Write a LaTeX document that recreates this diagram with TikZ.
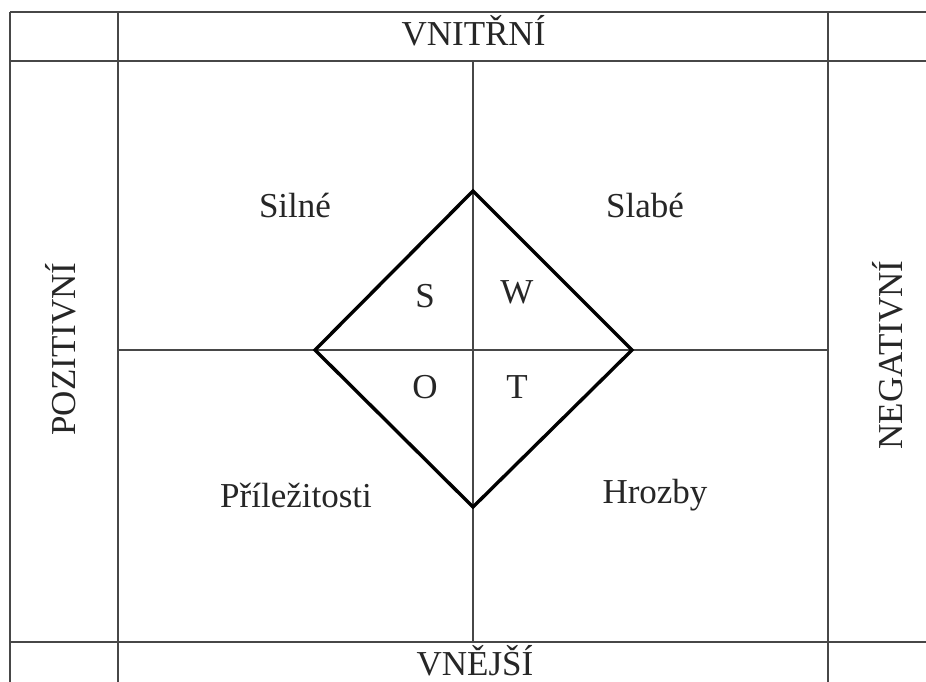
\documentclass[tikz,border=0pt]{standalone}
\usepackage{fontspec}
\setmainfont{Liberation Serif}
\begin{document}
\begin{tikzpicture}[x=1pt,y=-1pt,
  grid/.style={line width=1.8pt,draw=black!72},
  diamondline/.style={line width=3.4pt,draw=black,line join=miter},
  lbl/.style={font=\fontsize{35}{40}\selectfont,inner sep=0pt,anchor=base,text=black!85}]
\useasboundingbox (0,0) rectangle (926,682);
\clip (0,0) rectangle (926,682);
\fill[white] (0,0) rectangle (926,682);

% table grid
\coordinate (tl) at (10,12);
\draw[grid] (10,12) -- (940,12);
\draw[grid] (10,12) -- (10,700);
\draw[grid] (118,12) -- (118,700);
\draw[grid] (828,12) -- (828,700);
\draw[grid] (10,61) -- (940,61);
\draw[grid] (10,642) -- (940,642);
\draw[grid] (118,350) -- (828,350);
\draw[grid] (473,61) -- (473,642);

% SWOT diamond
\coordinate (dtop) at (473,191);
\coordinate (dright) at (632,350);
\coordinate (dbottom) at (473,507);
\coordinate (dleft) at (315,350);
\draw[diamondline] (dtop) -- (dright) -- (dbottom) -- (dleft) -- cycle;

% headings
\node[lbl] (in) at (473.5,46) {VNITŘNÍ};
\node[lbl] (out) at (475,675) {VNĚJŠÍ};
\node[lbl,rotate=90] (pos) at (75,349) {POZITIVNÍ};
\node[lbl,rotate=90] (neg) at (902,355) {NEGATIVNÍ};

% quadrant labels
\node[lbl] (strong) at (295,217) {Silné};
\node[lbl] (weak) at (645,217) {Slabé};
\node[lbl] (opp) at (296,507) {Příležitosti};
\node[lbl] (thr) at (655,503) {Hrozby};

% letters
\node[lbl] (s) at (425,307) {S};
\node[lbl] (w) at (517,303) {W};
\node[lbl] (o) at (425,398) {O};
\node[lbl] (t) at (517,398) {T};
\end{tikzpicture}
\end{document}
